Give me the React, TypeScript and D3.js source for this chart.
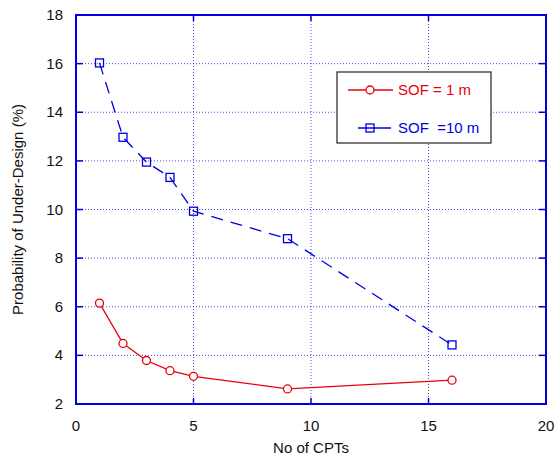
import React from 'react';
import * as d3 from 'd3';

const cpts = [1, 2, 3, 4, 5, 9, 16];
const sof1 = [6.15, 4.49, 3.79, 3.37, 3.14, 2.62, 2.98];
const sof10 = [16.03, 12.97, 11.95, 11.32, 9.93, 8.8, 4.43];
const xTicks = [0, 5, 10, 15, 20];
const yTicks = [2, 4, 6, 8, 10, 12, 14, 16, 18];

const W = 560, H = 459;
const m = { left: 76, right: 546, top: 15, bottom: 404 };
const font = 'Liberation Sans, Arial, sans-serif';
const fs = 15;

const x = d3.scaleLinear().domain([0, 20]).range([m.left, m.right]);
const y = d3.scaleLinear().domain([2, 18]).range([m.bottom, m.top]);

const App = () => {
  const line = d3.line<number>().x((d, i) => x(cpts[i])).y(d => y(d));
  const blue = '#0000dd';
  const red = '#e8000b';
  return (
    <svg width={W} height={H} style={{ position: 'absolute', left: 0, top: 0 }}>
      <rect width={W} height={H} fill="#fff" />
      {/* grid */}
      {xTicks.slice(1, -1).map(t => (
        <line key={'gx' + t} x1={x(t)} x2={x(t)} y1={m.top} y2={m.bottom} stroke={blue} strokeWidth={1} strokeDasharray="1,2" opacity={0.7} />
      ))}
      {yTicks.slice(1, -1).map(t => (
        <line key={'gy' + t} x1={m.left} x2={m.right} y1={y(t)} y2={y(t)} stroke={blue} strokeWidth={1} strokeDasharray="1,2" opacity={0.7} />
      ))}
      {/* ticks */}
      {xTicks.map(t => (
        <g key={'tx' + t}>
          <line x1={x(t)} x2={x(t)} y1={m.bottom} y2={m.bottom - 6} stroke={blue} strokeWidth={1.5} />
          <line x1={x(t)} x2={x(t)} y1={m.top} y2={m.top + 6} stroke={blue} strokeWidth={1.5} />
          <text x={x(t)} y={m.bottom + 27} textAnchor="middle" fontFamily={font} fontSize={fs} fill="#111">{t}</text>
        </g>
      ))}
      {yTicks.map(t => (
        <g key={'ty' + t}>
          <line x1={m.left} x2={m.left + 7} y1={y(t)} y2={y(t)} stroke={blue} strokeWidth={1.5} />
          <line x1={m.right} x2={m.right - 7} y1={y(t)} y2={y(t)} stroke={blue} strokeWidth={1.5} />
          <text x={m.left - 13} y={y(t) + 5} textAnchor="end" fontFamily={font} fontSize={fs} fill="#111">{t}</text>
        </g>
      ))}
      <rect x={m.left} y={m.top} width={m.right - m.left} height={m.bottom - m.top} fill="none" stroke={blue} strokeWidth={2} />
      {/* series */}
      <path d={line(sof1) || ''} fill="none" stroke={red} strokeWidth={1.3} />
      {sof1.map((v, i) => (
        <circle key={'c' + i} cx={x(cpts[i])} cy={y(v)} r={4} fill="#fff" stroke={red} strokeWidth={1.3} />
      ))}
      <path d={line(sof10) || ''} fill="none" stroke={blue} strokeWidth={1.3} strokeDasharray="12,8" />
      {sof10.map((v, i) => (
        <rect key={'s' + i} x={x(cpts[i]) - 4} y={y(v) - 4} width={8} height={8} fill="none" stroke={blue} strokeWidth={1.3} />
      ))}
      {/* legend */}
      <rect x={337} y={72} width={154} height={71} fill="#fff" stroke="#333" strokeWidth={1.3} />
      <line x1={348} x2={393} y1={90} y2={90} stroke={red} strokeWidth={1.3} />
      <circle cx={370} cy={90} r={4} fill="#fff" stroke={red} strokeWidth={1.3} />
      <text x={398} y={95} fontFamily={font} fontSize={fs} fill={red} style={{ whiteSpace: 'pre' }}>{'SOF = 1 m'}</text>
      <line x1={358} x2={391} y1={128} y2={128} stroke={blue} strokeWidth={1.3} />
      <rect x={366} y={124} width={8} height={8} fill="none" stroke={blue} strokeWidth={1.3} />
      <text x={398} y={133} fontFamily={font} fontSize={fs} fill={blue} style={{ whiteSpace: 'pre' }}>{'SOF  =10 m'}</text>
      {/* axis titles */}
      <text x={(m.left + m.right) / 2} y={453} textAnchor="middle" fontFamily={font} fontSize={fs} fill="#111">No of CPTs</text>
      <text transform={`translate(23,${(m.top + m.bottom) / 2}) rotate(-90)`} textAnchor="middle" fontFamily={font} fontSize={fs} fill="#111">Probability of Under-Design (%)</text>
    </svg>
  );
};

export default App;
